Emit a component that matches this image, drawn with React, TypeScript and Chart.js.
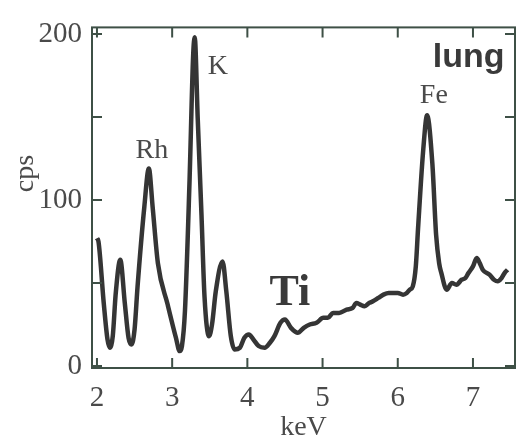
import React, { useEffect, useRef } from 'react';
import { Chart, registerables } from 'chart.js';

Chart.register(...registerables);

// Spectrum: energy (keV) and count rate (cps)
const energyKeV = [
  2.0, 2.02, 2.09, 2.14, 2.17, 2.21, 2.25, 2.31, 2.37, 2.42, 2.46, 2.5, 2.54, 2.63, 2.69, 2.74,
  2.81, 2.94, 3.05, 3.1, 3.13, 3.17, 3.23, 3.28, 3.3, 3.34, 3.39, 3.43, 3.49, 3.53, 3.58, 3.67,
  3.72, 3.78, 3.83, 3.9, 3.96, 4.02, 4.08, 4.15, 4.23, 4.3, 4.36, 4.44, 4.5, 4.58, 4.67, 4.75,
  4.83, 4.92, 5.01, 5.07, 5.14, 5.22, 5.32, 5.4, 5.45, 5.5, 5.56, 5.62, 5.67, 5.74, 5.81, 5.88,
  5.94, 6.0, 6.07, 6.12, 6.16, 6.2, 6.24, 6.27, 6.34, 6.39, 6.46, 6.51, 6.55, 6.58, 6.65, 6.72,
  6.78, 6.85, 6.9, 6.94, 7.0, 7.05, 7.09, 7.13, 7.22, 7.28, 7.33, 7.38, 7.42, 7.46,
];
const countsCps = [
  77, 75, 38, 16, 11, 18, 44, 64, 38, 17, 13, 22, 48, 96, 119, 96,
  62, 37, 17, 9, 12, 33, 110, 188, 198, 149, 91, 42, 18, 25, 45, 63,
  45, 18, 10, 11, 17, 19, 16, 12, 11, 14, 18, 26, 28, 23, 20, 23,
  25, 26, 29, 29, 32, 32, 34, 35, 38, 37, 36, 38, 39, 41, 43, 44,
  44, 44, 43, 44, 46, 48, 60, 83, 131, 151, 122, 79, 62, 56, 46, 50,
  49, 52, 53, 56, 60, 65, 62, 58, 55, 52, 51, 53, 56, 58,
];

// Axis settings
const xMin = 1.934;
const xMax = 7.559;
const yMin = -1.2;
const yMax = 204;
const xStep = 1;
const yStep = 50;
const yLabelled = [0, 100, 200];

// Peak annotations (text anchored at data coordinates)
const peakNames = ['Rh', 'K', 'Fe'];
const peakX = [2.73, 3.474, 6.48];
const peakY = [125.6, 176, 158.7];
const peakAlign: CanvasTextAlign[] = ['center', 'left', 'center'];

const sampleName = 'lung';
const sampleX = 7.42;
const sampleY = 180;
const tiName = 'Ti';
const tiX = 4.566;
const tiY = 37;
const yTitle = 'cps';
const yTitlePos = 116;
const xTitle = 'keV';

const AXIS_COLOR = '#3e5046';
const TEXT_COLOR = '#4a4a4a';
const LINE_COLOR = '#353535';
const SERIF = "'Liberation Serif', 'DejaVu Serif', serif";
const SANS = "'Liberation Sans', Arial, sans-serif";

const framePlugin = {
  id: 'frameAndText',
  afterDraw(chart: any) {
    const { ctx, chartArea, scales } = chart;
    const { left, right, top, bottom } = chartArea;
    const x = scales.x;
    const y = scales.y;
    ctx.save();
    ctx.strokeStyle = AXIS_COLOR;
    ctx.lineWidth = 2;
    ctx.strokeRect(left, top, right - left, bottom - top);
    const tick = 10;
    ctx.beginPath();
    x.ticks.forEach((t: any) => {
      const px = x.getPixelForValue(t.value);
      ctx.moveTo(px, bottom);
      ctx.lineTo(px, bottom - tick);
      ctx.moveTo(px, top);
      ctx.lineTo(px, top + tick);
    });
    y.ticks.forEach((t: any) => {
      const py = y.getPixelForValue(t.value);
      ctx.moveTo(left, py);
      ctx.lineTo(left + tick, py);
      ctx.moveTo(right, py);
      ctx.lineTo(right - tick, py);
    });
    ctx.stroke();

    ctx.fillStyle = TEXT_COLOR;
    ctx.textBaseline = 'alphabetic';
    ctx.font = `28px ${SERIF}`;
    peakNames.forEach((name, i) => {
      ctx.textAlign = peakAlign[i];
      ctx.fillText(name, x.getPixelForValue(peakX[i]), y.getPixelForValue(peakY[i]));
    });

    ctx.fillStyle = '#3a3a3a';
    ctx.font = `bold 34px ${SANS}`;
    ctx.textAlign = 'right';
    ctx.fillText(sampleName, x.getPixelForValue(sampleX), y.getPixelForValue(sampleY));

    ctx.font = `bold 44px ${SERIF}`;
    ctx.textAlign = 'center';
    ctx.fillText(tiName, x.getPixelForValue(tiX), y.getPixelForValue(tiY));

    ctx.fillStyle = TEXT_COLOR;
    ctx.font = `28px ${SERIF}`;
    ctx.translate(26, y.getPixelForValue(yTitlePos));
    ctx.rotate(-Math.PI / 2);
    ctx.textAlign = 'center';
    ctx.textBaseline = 'middle';
    ctx.fillText(yTitle, 0, 0);
    ctx.restore();
  },
};

export default function App() {
  const ref = useRef<HTMLCanvasElement>(null);
  useEffect(() => {
    if (!ref.current) return;
    const points = energyKeV.map((e, i) => ({ x: e, y: countsCps[i] }));
    const chart = new Chart(ref.current, {
      type: 'line',
      data: {
        datasets: [
          {
            data: points,
            borderColor: LINE_COLOR,
            borderWidth: 4.5,
            pointRadius: 0,
            cubicInterpolationMode: 'monotone',
            fill: false,
          },
        ],
      },
      options: {
        animation: false,
        responsive: false,
        layout: { padding: { left: 0, right: 2, top: 15, bottom: 0 } },
        plugins: { legend: { display: false }, tooltip: { enabled: false } },
        scales: {
          x: {
            type: 'linear',
            min: xMin,
            max: xMax,
            grid: { display: false, drawTicks: false },
            border: { display: false },
            ticks: {
              stepSize: xStep,
              includeBounds: false,
              padding: 13,
              color: TEXT_COLOR,
              font: { family: SERIF, size: 29 },
              maxRotation: 0,
              callback: (v: any) => String(v),
            },
            title: {
              display: true,
              text: xTitle,
              color: TEXT_COLOR,
              font: { family: SERIF, size: 28 },
              padding: { top: 0, bottom: 0 },
            },
            afterFit: (s: any) => {
              s.height = 76;
            },
          },
          y: {
            type: 'linear',
            min: yMin,
            max: yMax,
            grid: { display: false, drawTicks: false },
            border: { display: false },
            ticks: {
              stepSize: yStep,
              includeBounds: false,
              padding: 10,
              color: TEXT_COLOR,
              font: { family: SERIF, size: 29 },
              callback: (v: any) => (yLabelled.includes(Number(v)) ? String(v) : ''),
            },
            afterFit: (s: any) => {
              s.width = 92;
            },
          },
        },
      },
      plugins: [framePlugin],
    });
    return () => chart.destroy();
  }, []);
  return (
    <canvas
      ref={ref}
      width={517}
      height={444}
      style={{ position: 'absolute', left: 0, top: 0, width: 517, height: 444 }}
    />
  );
}
